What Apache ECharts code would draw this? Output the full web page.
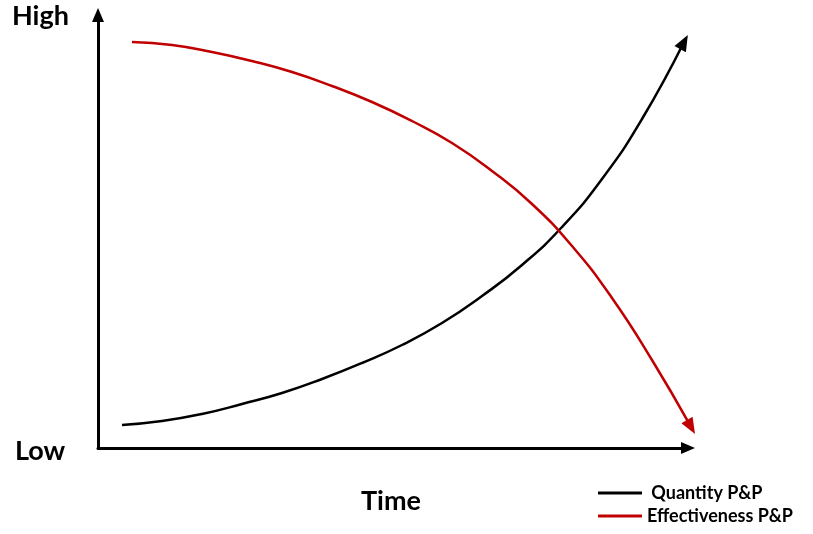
<!DOCTYPE html>
<html><head><meta charset="utf-8">
<script src="https://cdn.jsdelivr.net/npm/echarts@6/dist/echarts.min.js"></script>
<style>html,body{margin:0;padding:0;background:#fff}#c{width:813px;height:534px}</style>
</head><body><div id="c"></div>
<script>
// values in plot units (origin at axis corner)
const quantityX = [24, 64, 104, 144, 184, 224, 264, 304, 344, 384, 424, 464, 504, 544, 586];
const quantityY = [23, 27, 34, 44, 55, 69, 85, 103, 125, 152, 183, 221, 269, 329, 406];
const effectX = [34, 74, 114, 154, 194, 234, 274, 314, 354, 394, 434, 474, 514, 554, 593];
const effectY = [406, 403, 396, 387, 376, 362, 346, 327, 305, 277, 244, 202, 150, 88, 21];
const seriesNames = ['Quantity P&P', 'Effectiveness P&P'];
const axisLabels = { high: 'High', low: 'Low', x: 'Time' };

function build(xs, ys) {
  const n = xs.length;
  const dx = xs[n-1] - xs[n-2], dy = ys[n-1] - ys[n-2];
  const rot = -Math.atan2(dx, dy) * 180 / Math.PI;
  return xs.map((x, i) => i === n - 1
    ? { value: [x, ys[i]], symbol: 'triangle', symbolSize: [13, 16], symbolRotate: rot }
    : { value: [x, ys[i]], symbol: 'none' });
}

const chart = echarts.init(document.getElementById('c'));
const font = 'Lato, "Open Sans", sans-serif';
chart.setOption({
  animation: false,
  grid: { left: 98, right: 125, top: 15, bottom: 86 },
  xAxis: { type: 'value', min: 0, max: 590, splitLine: { show: false }, axisTick: { show: false }, axisLabel: { show: false },
    axisLine: { show: true, onZero: false, lineStyle: { color: '#000', width: 3 }, symbol: ['none', 'triangle'], symbolSize: [12, 14] } },
  yAxis: { type: 'value', min: 0, max: 433, splitLine: { show: false }, axisTick: { show: false }, axisLabel: { show: false },
    axisLine: { show: true, onZero: false, lineStyle: { color: '#000', width: 3 }, symbol: ['none', 'triangle'], symbolSize: [12, 14] } },
  legend: {
    orient: 'vertical', left: 598, top: 484, padding: 0, itemWidth: 44, itemHeight: 3, itemGap: 5, icon: 'rect',
    data: seriesNames,
    formatter: n => n === seriesNames[0] ? ' ' + n : n,
    textStyle: { fontFamily: font, fontWeight: 'bold', fontSize: 18, color: '#000', lineHeight: 18 }
  },
  graphic: [
    { type: 'text', left: 12, top: 3, style: { text: axisLabels.high, font: 'bold 27px ' + font, fill: '#000' } },
    { type: 'text', left: 15, top: 438, style: { text: axisLabels.low, font: 'bold 27px ' + font, fill: '#000' } },
    { type: 'text', left: 361, top: 488, style: { text: axisLabels.x, font: 'bold 27px ' + font, fill: '#000' } }
  ],
  series: [
    { name: seriesNames[0], type: 'line', smooth: 0.5, clip: false, data: build(quantityX, quantityY),
      lineStyle: { color: '#000', width: 2.5 }, itemStyle: { color: '#000' } },
    { name: seriesNames[1], type: 'line', smooth: 0.5, clip: false, data: build(effectX, effectY),
      lineStyle: { color: '#C00000', width: 2.5 }, itemStyle: { color: '#C00000' } }
  ]
});
</script></body></html>
